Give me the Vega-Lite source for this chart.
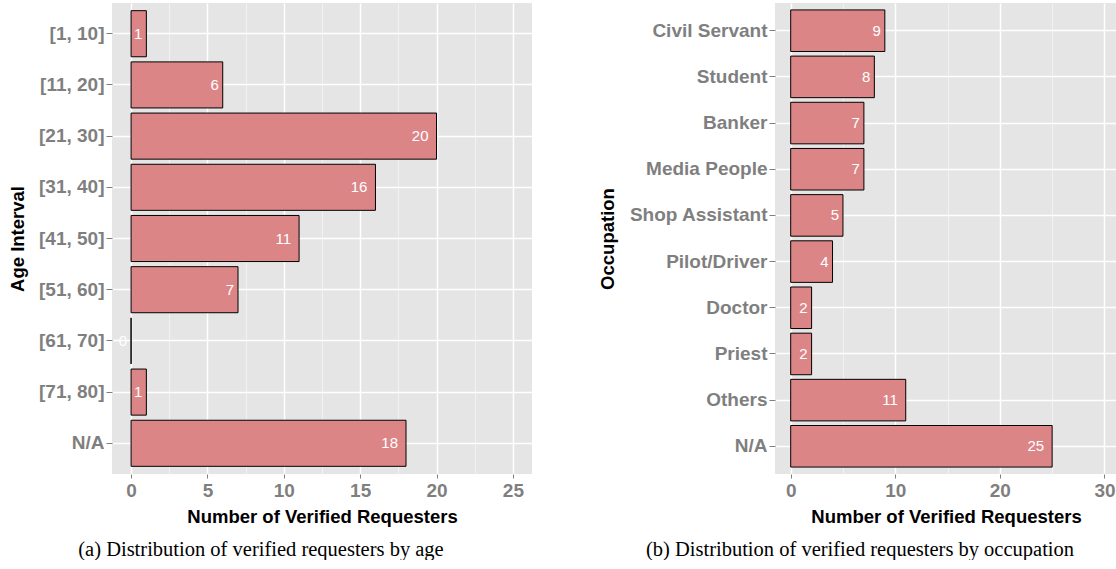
{
  "$schema": "https://vega.github.io/schema/vega-lite/v6.json",
  "padding": {"left": 8, "top": 3, "right": 0, "bottom": 0},
  "bounds": "flush",
  "spacing": 243,
  "config": {
    "view": {"fill": "#e5e5e5", "stroke": null},
    "axis": {
      "domain": false,
      "labelColor": "#7f7f7f",
      "labelFont": "Liberation Sans",
      "labelFontWeight": "bold",
      "labelFontSize": 19,
      "titleFont": "Liberation Sans",
      "titleFontWeight": "bold",
      "titleFontSize": 18.5,
      "titleColor": "#000000",
      "tickColor": "#7f7f7f",
      "gridColor": "#ffffff",
      "gridWidth": 1.5
    },
    "axisY": {"tickSize": 6, "labelPadding": 2, "titlePadding": 11, "bandPosition": 0.5, "grid": true},
    "axisX": {"tickSize": 4, "labelPadding": 3, "titlePadding": 7},
    "title": {"font": "Liberation Serif", "fontSize": 20.5, "fontWeight": "normal", "color": "#000000", "orient": "bottom", "anchor": "middle", "offset": 14}
  },
  "hconcat": [
    {
      "width": 420,
      "height": 471,
      "title": {"text": "(a)  Distribution of verified requesters by age", "dx": -61},
      "data": {"values": [
        {"age": "[1, 10]", "n": 1},
        {"age": "[11, 20]", "n": 6},
        {"age": "[21, 30]", "n": 20},
        {"age": "[31, 40]", "n": 16},
        {"age": "[41, 50]", "n": 11},
        {"age": "[51, 60]", "n": 7},
        {"age": "[61, 70]", "n": 0},
        {"age": "[71, 80]", "n": 1},
        {"age": "N/A", "n": 18}
      ]},
      "encoding": {
        "y": {"field": "age", "type": "nominal", "sort": null,
              "scale": {"paddingInner": 0.1, "paddingOuter": 0.15},
              "axis": {"title": "Age Interval"}},
        "x": {"field": "n", "type": "quantitative",
              "scale": {"domain": [-1.25, 26.25], "nice": false},
              "axis": {"title": "Number of Verified Requesters",
                       "values": [0, 2.5, 5, 7.5, 10, 12.5, 15, 17.5, 20, 22.5, 25],
                       "labelExpr": "datum.value % 5 === 0 ? datum.label : ''",
                       "gridColor": {"condition": {"test": "datum.value % 5 === 0", "value": "#ffffff"}, "value": "#f2f2f2"},
                       "gridWidth": {"condition": {"test": "datum.value % 5 === 0", "value": 1.5}, "value": 1},
                       "tickColor": {"condition": {"test": "datum.value % 5 === 0", "value": "#7f7f7f"}, "value": "transparent"}}}
      },
      "layer": [
        {"mark": {"type": "bar", "fill": "#dc8587", "stroke": "#000000", "strokeWidth": 1},
         "encoding": {"x2": {"datum": 0}}},
        {"transform": [{"filter": "datum.n < 10"}],
         "mark": {"type": "text", "align": "right", "dx": -4, "baseline": "middle", "color": "#ffffff", "font": "Liberation Sans", "fontSize": 15},
         "encoding": {"text": {"field": "n", "type": "quantitative"}}},
        {"transform": [{"filter": "datum.n >= 10"}],
         "mark": {"type": "text", "align": "right", "dx": -8, "baseline": "middle", "color": "#ffffff", "font": "Liberation Sans", "fontSize": 15},
         "encoding": {"text": {"field": "n", "type": "quantitative"}}}
      ]
    },
    {
      "width": 342,
      "height": 471,
      "title": {"text": "(b)  Distribution of verified requesters by occupation", "dx": -86},
      "data": {"values": [
        {"occ": "Civil Servant", "n": 9},
        {"occ": "Student", "n": 8},
        {"occ": "Banker", "n": 7},
        {"occ": "Media People", "n": 7},
        {"occ": "Shop Assistant", "n": 5},
        {"occ": "Pilot/Driver", "n": 4},
        {"occ": "Doctor", "n": 2},
        {"occ": "Priest", "n": 2},
        {"occ": "Others", "n": 11},
        {"occ": "N/A", "n": 25}
      ]},
      "encoding": {
        "y": {"field": "occ", "type": "nominal", "sort": null,
              "scale": {"paddingInner": 0.1, "paddingOuter": 0.15},
              "axis": {"title": "Occupation"}},
        "x": {"field": "n", "type": "quantitative",
              "scale": {"domain": [-1.5, 31.2], "nice": false},
              "axis": {"title": "Number of Verified Requesters",
                       "values": [0, 5, 10, 15, 20, 25, 30],
                       "labelExpr": "datum.value % 10 === 0 ? datum.label : ''",
                       "gridColor": {"condition": {"test": "datum.value % 10 === 0", "value": "#ffffff"}, "value": "#f2f2f2"},
                       "gridWidth": {"condition": {"test": "datum.value % 10 === 0", "value": 1.5}, "value": 1},
                       "tickColor": {"condition": {"test": "datum.value % 10 === 0", "value": "#7f7f7f"}, "value": "transparent"}}}
      },
      "layer": [
        {"mark": {"type": "bar", "fill": "#dc8587", "stroke": "#000000", "strokeWidth": 1},
         "encoding": {"x2": {"datum": 0}}},
        {"transform": [{"filter": "datum.n < 10"}],
         "mark": {"type": "text", "align": "right", "dx": -4, "baseline": "middle", "color": "#ffffff", "font": "Liberation Sans", "fontSize": 15},
         "encoding": {"text": {"field": "n", "type": "quantitative"}}},
        {"transform": [{"filter": "datum.n >= 10"}],
         "mark": {"type": "text", "align": "right", "dx": -8, "baseline": "middle", "color": "#ffffff", "font": "Liberation Sans", "fontSize": 15},
         "encoding": {"text": {"field": "n", "type": "quantitative"}}}
      ]
    }
  ]
}
